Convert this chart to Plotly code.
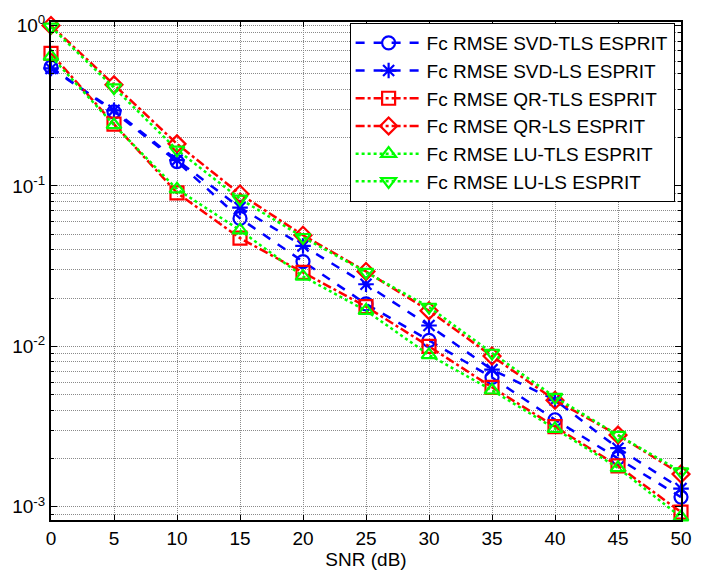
import plotly.graph_objects as go

# SNR sweep (dB)
snr = [0, 5, 10, 15, 20, 25, 30, 35, 40, 45, 50]

# Frequency RMSE for each ESPRIT variant
svd_tls = [0.55, 0.29, 0.142, 0.0628, 0.0338, 0.0184, 0.0109, 0.0064, 0.00349, 0.00201, 0.00115]
svd_ls = [0.54, 0.296, 0.145, 0.0733, 0.0423, 0.0244, 0.0135, 0.00716, 0.00463, 0.00232, 0.0013]
qr_tls = [0.67, 0.243, 0.0906, 0.0473, 0.0289, 0.0177, 0.0100, 0.00556, 0.00316, 0.0018, 0.000927]
qr_ls = [1.0, 0.427, 0.183, 0.0891, 0.0493, 0.0293, 0.0167, 0.0087, 0.00462, 0.0028, 0.0016]
lu_tls = [0.643, 0.24, 0.0955, 0.053, 0.0273, 0.0167, 0.00885, 0.00533, 0.00307, 0.00175, 0.000863]
lu_ls = [0.98, 0.41, 0.168, 0.0831, 0.0479, 0.029, 0.0176, 0.0091, 0.00483, 0.0028, 0.00166]

names = [
    "Fc RMSE SVD-TLS ESPRIT",
    "Fc RMSE SVD-LS ESPRIT",
    "Fc RMSE QR-TLS ESPRIT",
    "Fc RMSE QR-LS ESPRIT",
    "Fc RMSE LU-TLS ESPRIT",
    "Fc RMSE LU-LS ESPRIT",
]
series = [svd_tls, svd_ls, qr_tls, qr_ls, lu_tls, lu_ls]
colors = ["#0000ff", "#0000ff", "#ff0000", "#ff0000", "#00ff00", "#00ff00"]
dashes = ["dash", "dash", "dashdot", "dashdot", "dot", "dot"]
symbols = ["circle-open", "asterisk-open", "square-open", "diamond-open",
           "triangle-up-open", "triangle-down-open"]

y_ticks = [1e-3, 1e-2, 1e-1, 1]
y_ticktext = ["10<sup>-3</sup>", "10<sup>-2</sup>", "10<sup>-1</sup>", "10<sup>0</sup>"]

FONT = "Liberation Sans, Arial, sans-serif"
GRID = "#8a8a8a"
GRID_DASH = "1px,1px"

fig = go.Figure()
for name, vals, col, dash, sym in zip(names, series, colors, dashes, symbols):
    fig.add_trace(go.Scatter(
        x=snr, y=vals, name=name, mode="lines+markers",
        line=dict(color=col, width=2.5, dash=dash),
        marker=dict(symbol=sym, size=13, color=col, line=dict(color=col, width=2.2)),
        cliponaxis=False,
    ))

fig.update_layout(
    width=704, height=578,
    margin=dict(l=50, r=19, t=13, b=58),
    paper_bgcolor="white", plot_bgcolor="white",
    font=dict(family=FONT, size=19, color="black"),
    showlegend=True,
    legend=dict(
        x=0.474, y=0.998, xanchor="left", yanchor="top",
        bgcolor="white", bordercolor="black", borderwidth=1,
        font=dict(family=FONT, size=19, color="black"),
        itemwidth=66, tracegroupgap=0,
    ),
)

fig.update_xaxes(
    range=[0, 50], tickvals=list(range(0, 51, 5)),
    ticks="inside", ticklen=5, tickcolor="black",
    showline=True, linecolor="black", linewidth=2, mirror="ticks",
    showgrid=True, gridcolor=GRID, griddash=GRID_DASH, gridwidth=1,
    zeroline=False,
    title=dict(text="SNR (dB)", font=dict(family=FONT, size=19), standoff=2),
)

fig.update_yaxes(
    type="log", range=[-3.082, 0.022],
    tickvals=y_ticks, ticktext=y_ticktext,
    ticks="inside", ticklen=6, tickcolor="black",
    showline=True, linecolor="black", linewidth=2, mirror="ticks",
    showgrid=True, gridcolor=GRID, griddash=GRID_DASH, gridwidth=1,
    minor=dict(ticks="inside", ticklen=3, tickcolor="black",
               showgrid=True, gridcolor=GRID, griddash=GRID_DASH, gridwidth=1,
               dtick="D1"),
    zeroline=False,
)

fig.write_html("out.html")
